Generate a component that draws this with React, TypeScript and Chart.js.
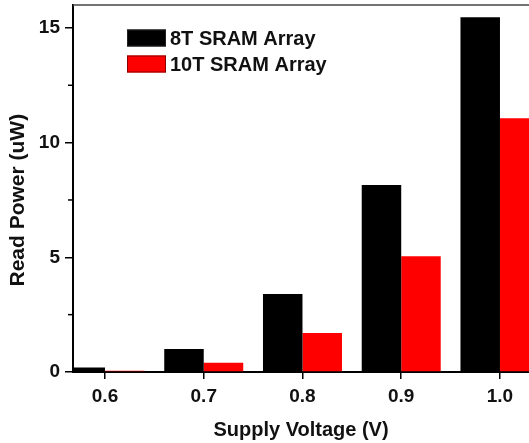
import React, { useEffect, useRef } from "react";
import { Chart, registerables } from "chart.js";

Chart.register(...registerables);

const voltages = [0.6, 0.7, 0.8, 0.9, 1.0];
const sram8T = [0.2, 1.0, 3.4, 8.15, 15.47];
const sram10T = [0.05, 0.4, 1.7, 5.05, 11.06];
const yMajorTicks = [0, 5, 10, 15];
const yMinorTicks = [2.5, 7.5, 12.5];
const seriesLabels = ["8T SRAM Array", "10T SRAM Array"];
const seriesColors = ["#000000", "#ff0000"];

const FONT = "'Liberation Sans', Arial, Helvetica, sans-serif";

const framePlugin = {
  id: "frameAndLegend",
  afterDraw(chart: any) {
    const { ctx, chartArea } = chart;
    const y = chart.scales.y;
    ctx.save();
    // top border
    ctx.strokeStyle = "#444";
    ctx.lineWidth = 1.5;
    ctx.beginPath();
    ctx.moveTo(chartArea.left, chartArea.top);
    ctx.lineTo(chartArea.right, chartArea.top);
    ctx.stroke();
    // minor y ticks
    ctx.strokeStyle = "#000";
    ctx.lineWidth = 1.5;
    yMinorTicks.forEach((v) => {
      const py = y.getPixelForValue(v);
      ctx.beginPath();
      ctx.moveTo(chartArea.left - 5, py);
      ctx.lineTo(chartArea.left, py);
      ctx.stroke();
    });
    // legend
    const lx = chartArea.left + 54;
    const rows = [chartArea.top + 33, chartArea.top + 59];
    ctx.font = `bold 20px ${FONT}`;
    ctx.textBaseline = "middle";
    ctx.textAlign = "left";
    chart.data.datasets.forEach((ds: any, i: number) => {
      const cy = rows[i];
      ctx.fillStyle = ds.backgroundColor;
      ctx.fillRect(lx, cy - 8.5, 39, 17);
      ctx.strokeStyle = i === 0 ? "#222" : "#8a0000";
      ctx.lineWidth = 1;
      ctx.strokeRect(lx + 0.5, cy - 8, 38, 16);
      ctx.fillStyle = "#111";
      ctx.fillText(ds.label, lx + 43, cy + 1);
    });
    ctx.restore();
  },
};

export default function App() {
  const ref = useRef<HTMLCanvasElement | null>(null);
  useEffect(() => {
    document.body.style.margin = "0";
    if (!ref.current) return;
    const chart = new Chart(ref.current, {
      type: "bar",
      data: {
        datasets: [
          {
            label: seriesLabels[0],
            data: voltages.map((v, i) => ({ x: v, y: sram8T[i] })),
            backgroundColor: seriesColors[0],
            borderColor: "#333",
            borderWidth: 0,
          },
          {
            label: seriesLabels[1],
            data: voltages.map((v, i) => ({ x: v, y: sram10T[i] })),
            backgroundColor: seriesColors[1],
            borderColor: "#7a0000",
            borderWidth: 0,
          },
        ],
      },
      options: {
        responsive: false,
        animation: false,
        devicePixelRatio: 1,
        layout: { padding: { top: 5, left: 0, right: 0, bottom: 0 } },
        datasets: { bar: { categoryPercentage: 0.8, barPercentage: 1.0 } },
        plugins: {
          legend: { display: false },
          tooltip: { enabled: false },
        },
        scales: {
          x: {
            type: "linear",
            offset: false,
            min: 0.5676,
            max: 1.0294,
            afterBuildTicks: (s: any) => {
              s.ticks = voltages.map((v) => ({ value: v }));
            },
            afterFit: (s: any) => {
              s.height = 71;
              s.paddingLeft = 0;
              s.paddingRight = 0;
            },
            ticks: {
              callback: (v: any) => Number(v).toFixed(1),
              font: { family: FONT, size: 19, weight: "bold" },
              color: "#111",
              padding: 6,
              maxRotation: 0,
              autoSkip: false,
            },
            grid: {
              offset: false,
              drawOnChartArea: false,
              drawTicks: true,
              tickLength: 7,
              color: "#000",
              tickColor: "#000",
              lineWidth: 1.5,
              tickWidth: 1.5,
            },
            border: { display: true, color: "#000", width: 2 },
            title: {
              display: true,
              text: "Supply Voltage (V)",
              font: { family: FONT, size: 20, weight: "bold" },
              color: "#111",
              padding: { top: 0, bottom: 1 },
            },
          },
          y: {
            min: 0,
            max: 16,
            afterBuildTicks: (s: any) => {
              s.ticks = yMajorTicks.map((v) => ({ value: v }));
            },
            afterFit: (s: any) => {
              s.width = 73;
              s.paddingTop = 0;
              s.paddingBottom = 0;
            },
            ticks: {
              font: { family: FONT, size: 19, weight: "bold" },
              color: "#111",
              padding: 5,
            },
            grid: {
              drawOnChartArea: false,
              drawTicks: true,
              tickLength: 8,
              color: "#000",
              tickColor: "#000",
              lineWidth: 1.5,
              tickWidth: 1.5,
            },
            border: { display: true, color: "#000", width: 2 },
            title: {
              display: true,
              text: "Read Power (uW)    ",
              font: { family: FONT, size: 21, weight: "bold" },
              color: "#111",
              padding: { top: 5.5, bottom: 0 },
            },
          },
        },
      },
      plugins: [framePlugin],
    } as any);
    return () => chart.destroy();
  }, []);
  return (
    <div style={{ width: 529, height: 443 }}>
      <canvas ref={ref} width={529} height={443} style={{ display: "block" }} />
    </div>
  );
}
